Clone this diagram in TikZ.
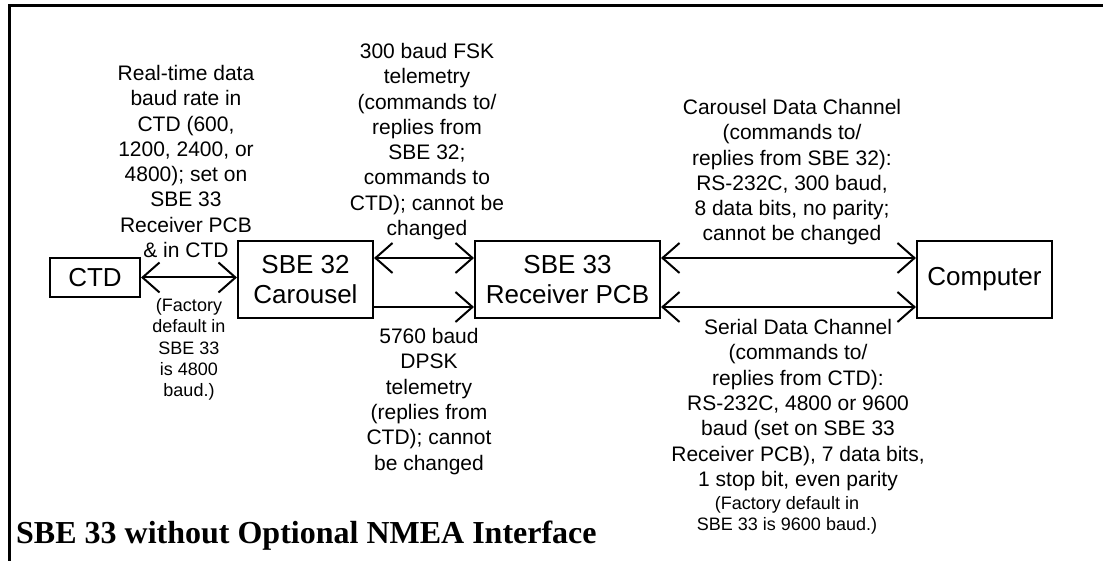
\documentclass[tikz,border=0pt]{standalone}
\usepackage{fontspec}
\setmainfont{Liberation Sans}
\newfontfamily\titlefont{Liberation Serif}
\usetikzlibrary{arrows.meta}
\begin{document}
\begin{tikzpicture}[x=1pt,y=-1pt,
  box/.style={draw,line width=2pt,inner sep=0pt,align=center,font=\fontsize{26}{30}\selectfont},
  lbl/.style={align=center,inner sep=0pt,anchor=base,font=\fontsize{21}{25.3}\selectfont},
  smalllbl/.style={align=center,inner sep=0pt,anchor=base,font=\fontsize{18}{21.3}\selectfont},
  link/.style={line width=2pt},
  >={Straight Barb[length=17pt,width=30pt]},
  frameline/.style={line width=2.5pt}]
\useasboundingbox (0,0) rectangle (1103,561);
\coordinate (fb) at (9.7,561);
\coordinate (fc) at (9.7,5.5);
\coordinate (fr) at (1103,5.5);
\draw[frameline] (fb) -- (fc) -- (fr);

\node[box,minimum width=90pt,minimum height=39pt] (ctd) at (95,277.5) {CTD};
\node[box,minimum width=135pt,minimum height=77pt] (sbe32) at (305.5,279.5) {SBE 32\\Carousel};
\node[box,minimum width=185pt,minimum height=77pt] (sbe33) at (567.5,279.5) {SBE 33\\Receiver PCB};
\node[box,minimum width=135pt,minimum height=77pt] (comp) at (984.5,279.5) {Computer};

\draw[link,<->] (ctd.east) -- (ctd.east -| sbe32.west);
\draw[link,<->] (sbe32.east |- 0,258) -- (sbe33.west |- 0,258);
\draw[link,->] (sbe32.east |- 0,307) -- (sbe33.west |- 0,307);
\draw[link,<->] (sbe33.east |- 0,258) -- (comp.west |- 0,258);
\draw[link,<->] (sbe33.east |- 0,307) -- (comp.west |- 0,307);

\node[lbl] (l1) at (186,257.6) {Real-time data\\baud rate in\\CTD (600,\\1200, 2400, or\\4800); set on\\SBE 33\\Receiver PCB\\\& in CTD};
\node[smalllbl] (l2) at (189,396.7) {(Factory\\default in\\SBE 33\\is 4800\\baud.)};
\node[lbl] (l3) at (427,235.6) {300 baud FSK\\telemetry\\(commands to/\\replies from\\SBE 32;\\commands to\\CTD); cannot be\\changed};
\node[lbl] (l4) at (429,470) {5760 baud\\DPSK\\telemetry\\(replies from\\CTD); cannot\\be changed};
\node[lbl] (l5) at (792,241) {Carousel Data Channel\\(commands to/\\replies from SBE 32):\\RS-232C, 300 baud,\\8 data bits, no parity;\\cannot be changed};
\node[lbl] (l6) at (798,486.3) {Serial Data Channel\\(commands to/\\replies from CTD):\\RS-232C, 4800 or 9600\\baud (set on SBE 33\\Receiver PCB), 7 data bits,\\1 stop bit, even parity};
\node[smalllbl] (l7) at (787,530.8) {(Factory default in\\SBE 33 is 9600 baud.)};
\node[anchor=base west,inner sep=0pt,font=\titlefont\bfseries\fontsize{32}{36}\selectfont] (title) at (16,543) {SBE 33 without Optional NMEA Interface};
\end{tikzpicture}
\end{document}
